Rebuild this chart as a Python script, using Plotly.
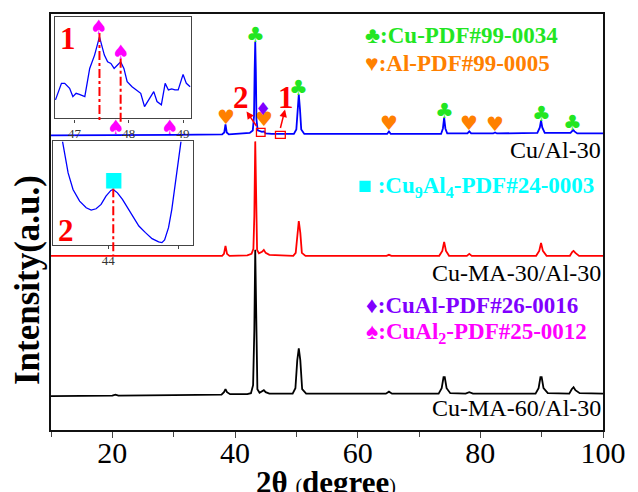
import plotly.graph_objects as go

# ---------------- data ----------------
# Cu/Al-30 (blue)
tt_blue = [10, 20, 30, 37.9, 38.25, 38.45, 38.65, 39.0, 41.0, 42.4, 42.9, 43.1, 43.2, 43.3, 43.4, 43.5, 43.7,
           44.0, 44.4, 44.7, 45.0, 46.0, 49.6, 50.0, 50.2, 50.4, 50.6, 50.8, 51.3, 64.8, 65.1, 65.4,
           73.6, 73.9, 74.1, 74.3, 74.6, 77.9, 78.2, 78.5, 82.1, 82.4, 82.7, 89.3, 89.7, 89.9, 90.1, 90.5,
           94.7, 95.0, 95.15, 95.35, 95.8, 100]
I_blue = [0, 0, 0.5, 1, 3, 11, 3, 1, 1.5, 2.5, 5, 19, 64, 94, 64, 16, 5,
          4, 3.5, 4, 2, 1.5, 1.5, 6, 26, 41, 26, 6, 1.5, 1.5, 4, 1.5,
          1.5, 7, 18, 7, 2, 2, 4, 2, 2, 3, 2, 2.5, 8, 15, 8, 2.5,
          2.5, 5, 5.5, 4, 2, 2]
# Cu-MA-30/Al-30 (red)
tt_red = [10, 20, 30, 37.9, 38.2, 38.45, 38.7, 39.1, 42.0, 42.7, 43.0, 43.15, 43.3, 43.45, 43.6, 43.9,
          44.4, 44.7, 45.0, 45.6, 47.5, 48.0, 49.5, 49.9, 50.15, 50.4, 50.65, 50.9, 51.5, 64.7, 65.1, 65.5,
          73.3, 73.8, 74.1, 74.4, 74.9, 77.8, 78.2, 78.6, 89.1, 89.6, 89.9, 90.2, 90.8,
          94.6, 95.0, 95.2, 95.5, 96.1, 100]
I_red = [0, 0, 0, 0, 2, 10, 2, 0, 0.5, 2, 7, 40, 115, 40, 6, 2.5,
         4, 6, 3, 1, 0.5, 1, 0, 3, 23, 35, 23, 3, 0, 0, 1, 0,
         0, 5, 14, 5, 0, 0, 2, 0, 0, 5, 13, 5, 0,
         0, 4, 5, 3, 0, 0]
# Cu-MA-60/Al-30 (black)
tt_black = [10, 20, 20.5, 21, 30, 37.8, 38.2, 38.45, 38.7, 39.2, 42.0, 42.6, 42.95, 43.15, 43.3, 43.45, 43.65,
            44.0, 44.4, 44.7, 45.0, 45.6, 49.4, 49.85, 50.15, 50.4, 50.65, 50.95, 51.6, 64.6, 65.1, 65.6,
            73.2, 73.7, 74.0, 74.2, 74.5, 75.1, 77.6, 78.2, 78.8, 89.0, 89.5, 89.8, 90.0, 90.3, 91.0,
            94.5, 94.9, 95.2, 95.5, 96.2, 100]
I_black = [0, 0.5, 1.5, 0.5, 1, 1.5, 4, 7, 4, 2, 2, 3, 11, 66, 147, 66, 7,
           3.5, 5, 6, 4, 2.5, 2.5, 8, 36, 48, 36, 7, 2.5, 2.5, 4.5, 2.5,
           2.5, 8, 19, 19, 8, 3, 2.5, 4, 2.5, 2.5, 8, 19, 19, 8, 3,
           2.5, 7, 9, 6, 3, 2.5]
offset_blue, offset_red, offset_black = 296, 175, 34

# inset 1 (zoom of region "1", blue)
tt_in1 = [46.65, 46.76, 46.82, 46.91, 46.97, 47.03, 47.09, 47.19, 47.28, 47.37, 47.46, 47.55, 47.61, 47.67,
          47.73, 47.85, 47.91, 47.97, 48.06, 48.15, 48.22, 48.29, 48.37, 48.46, 48.52, 48.60, 48.67, 48.73,
          48.79, 48.85, 48.91, 49.00, 49.06, 49.13]
I_in1 = [18.7, 35.3, 35.3, 30.3, 22, 25.3, 24.3, 22, 50.3, 63.7, 82, 63.7, 57, 55.3,
         50.3, 57, 50.3, 37, 32, 28.7, 25.3, 12, 18.7, 27, 17, 13.7, 35.3, 28.7,
         29.7, 28.7, 28.7, 44.3, 35.3, 32]
# inset 2 (zoom of region "2", blue)
tt_in2 = [43.346, 43.379, 43.426, 43.496, 43.590, 43.684, 43.755, 43.825, 43.896, 43.966, 44.036, 44.069,
          44.130, 44.201, 44.271, 44.341, 44.435, 44.529, 44.623, 44.717, 44.764, 44.802, 44.858, 44.905,
          44.952, 44.999, 45.036]
I_in2 = [104, 89, 72.3, 55.7, 44, 37.3, 35, 36.3, 40.7, 49, 54.7, 55.7,
         52.3, 45.7, 37.3, 29, 19, 12.3, 6.3, 3, 2.3, 5, 17.3, 35.7,
         59, 85.7, 104]

peaks_Cu = [43.3, 50.4, 74.1, 89.9, 95.1]
peaks_Al = [38.5, 44.7, 65.1, 78.2, 82.4]
peaks_CuAl = [44.6]
peaks_CuAl2_main = [20.6, 29.4]
peaks_CuAl2_inset = [47.46, 47.85]
peaks_Cu9Al4_inset = [44.07]

x_ticks = [20, 40, 60, 80, 100]
x_minor = [10, 30, 50, 70, 90]

labels = ["Cu/Al-30", "Cu-MA-30/Al-30", "Cu-MA-60/Al-30"]

# ---------------- layout geometry ----------------
W, H = 638, 492
L, R, T, B = 51, 610, 12, 430
PW, PH = R - L, B - T
SERIF = "Liberation Serif, Times New Roman, serif"
SYM = "DejaVu Sans"

C_GREEN = "#22e622"
C_ORANGE = "#ff8000"
C_CYAN = "#00ffff"
C_PURPLE = "#8000ff"
C_MAG = "#ff00ff"


def px(xp, yp):
    return (xp - L) / PW, (B - yp) / PH


def dom_x(a, b):
    return [(a - L) / PW, (b - L) / PW]


def dom_y(top, bot):
    return [(B - bot) / PH, (B - top) / PH]


fig = go.Figure()
fig.add_trace(go.Scatter(x=tt_black, y=[v + offset_black for v in I_black], mode="lines",
                         line=dict(color="black", width=1.8), showlegend=False))
fig.add_trace(go.Scatter(x=tt_red, y=[v + offset_red for v in I_red], mode="lines",
                         line=dict(color="#ff0000", width=1.8), showlegend=False))
fig.add_trace(go.Scatter(x=tt_blue, y=[v + offset_blue for v in I_blue], mode="lines",
                         line=dict(color="#0000ff", width=1.8), showlegend=False))
fig.add_trace(go.Scatter(x=tt_in1, y=I_in1, mode="lines", xaxis="x2", yaxis="y2",
                         line=dict(color="#0000ff", width=1.3), showlegend=False))
fig.add_trace(go.Scatter(x=tt_in2, y=I_in2, mode="lines", xaxis="x3", yaxis="y3",
                         line=dict(color="#0000ff", width=1.3), showlegend=False))

ann = []


def sym(x, y, ch, color, size, xref="x", yref="y"):
    ann.append(dict(x=x, y=y, xref=xref, yref=yref, text=ch, showarrow=False,
                    font=dict(color=color, size=size, family=SYM), xanchor="center", yanchor="middle"))


def local_max(tt, I, off, x0, w=0.4):
    return max(v for t, v in zip(tt, I) if abs(t - x0) <= w) + off


for p in peaks_Cu:
    sym(p, local_max(tt_blue, I_blue, offset_blue, p) + 7, "♣", C_GREEN, 21)
for p in peaks_Al:
    pad = 13 if p == 44.7 else 8
    sym(p, local_max(tt_blue, I_blue, offset_blue, p, 0.2) + pad, "♥", C_ORANGE, 20)
for p in peaks_CuAl:
    sym(p, offset_blue + 27, "♦", C_PURPLE, 18)
for p in peaks_CuAl2_main:
    sym(p, offset_blue + 8, "♠", C_MAG, 20)
for p in peaks_CuAl2_inset:
    sym(p, local_max(tt_in1, I_in1, 0, p, 0.02) + 10, "♠", C_MAG, 20, "x2", "y2")
for p in peaks_Cu9Al4_inset:
    sym(p, local_max(tt_in2, I_in2, 0, p, 0.02) + 11, "■", C_CYAN, 20, "x3", "y3")

# legend-like texts
legend_items = [
    (367, 34, C_GREEN, "♣:Cu-PDF#99-0034"),
    (367, 62, C_ORANGE, "♥:Al-PDF#99-0005"),
    (360, 186, C_CYAN, "■ :Cu<sub>9</sub>Al<sub>4</sub>-PDF#24-0003"),
    (368, 305, C_PURPLE, "♦:CuAl-PDF#26-0016"),
    (368, 333, C_MAG, "♠:CuAl<sub>2</sub>-PDF#25-0012"),
]
for xp, yp, col, txt in legend_items:
    x, y = px(xp, yp)
    ann.append(dict(x=x, y=y, xref="paper", yref="paper", text="<b>" + txt + "</b>", showarrow=False,
                    font=dict(color=col, size=23, family=SERIF), xanchor="left", yanchor="middle"))

# curve labels
for yp, txt in zip([149, 272, 408], labels):
    x, y = px(610, yp)
    ann.append(dict(x=x, y=y, xref="paper", yref="paper", text=txt, showarrow=False,
                    font=dict(color="black", size=24, family=SERIF), xanchor="right", yanchor="middle"))

# red numbers
for xp, yp, txt in [(68, 37, "1"), (66, 230, "2"), (243, 96, "2"), (289, 96, "1")]:
    x, y = px(xp, yp)
    ann.append(dict(x=x, y=y, xref="paper", yref="paper", text="<b>" + txt + "</b>", showarrow=False,
                    font=dict(color="#ff0000", size=31, family=SERIF), xanchor="center", yanchor="middle"))

# arrows (head, tail)
for (hx, hy), (tx, ty) in [((249, 110), (260, 126)), ((288, 108), (283, 128))]:
    x, y = px(hx, hy)
    ann.append(dict(x=x, y=y, xref="paper", yref="paper", text="", showarrow=True,
                    ax=tx - hx, ay=ty - hy, arrowhead=2, arrowsize=1, arrowwidth=1.5,
                    arrowcolor="#ff0000", standoff=0, startstandoff=0))

# axis titles
x, y = px(329, 483)
ann.append(dict(x=x, y=y, xref="paper", yref="paper", showarrow=False, xanchor="center", yanchor="middle",
                text="<b>2θ</b> <span style='font-size:20px'>(</span><b>degree</b><span style='font-size:20px'>)</span>",
                font=dict(color="black", size=31, family=SERIF)))
x, y = px(27, 279)
ann.append(dict(x=x, y=y, xref="paper", yref="paper", showarrow=False, xanchor="center", yanchor="middle",
                textangle=-90, text="<b>Intensity(a.u.)</b>", font=dict(color="black", size=35, family=SERIF)))

shapes = []
# red boxes on blue curve
for x0, x1, y0, y1 in [(43.5, 44.9, offset_blue - 1, offset_blue + 7), (46.6, 48.2, offset_blue - 3, offset_blue + 4)]:
    shapes.append(dict(type="rect", xref="x", yref="y", x0=x0, x1=x1, y0=y0, y1=y1,
                       line=dict(color="#ff0000", width=1.3)))
# dash-dot guide lines in insets
for p, ytop in zip(peaks_CuAl2_inset, [31, 57]):
    shapes.append(dict(type="line", xref="x2", yref="paper", x0=p, x1=p,
                       y0=px(0, ytop)[1], y1=px(0, 121)[1],
                       line=dict(color="#ff0000", width=2, dash="dashdot")))
for p in peaks_Cu9Al4_inset:
    shapes.append(dict(type="line", xref="x3", yref="paper", x0=p, x1=p,
                       y0=px(0, 187)[1], y1=px(0, 254)[1],
                       line=dict(color="#ff0000", width=2, dash="dashdot")))

fig.update_layout(
    width=W, height=H, margin=dict(l=L, r=W - R, t=T, b=H - B),
    paper_bgcolor="white", plot_bgcolor="white",
    annotations=ann, shapes=shapes,
    xaxis=dict(range=[10, 100], tickvals=x_ticks, ticks="outside", ticklen=6, tickwidth=1.3,
               minor=dict(tickvals=x_minor, ticks="outside", ticklen=5, tickwidth=1.3),
               showline=True, mirror=True, linecolor="#111", linewidth=1.6, showgrid=False, zeroline=False,
               ticklabelstandoff=-11,
               tickfont=dict(size=30, family=SERIF, color="black")),
    yaxis=dict(range=[0, PH], showticklabels=False, ticks="", showline=True, mirror=True,
               linecolor="#111", linewidth=1.6, showgrid=False, zeroline=False),
    xaxis2=dict(domain=dom_x(55, 193), anchor="y2", range=[46.64, 49.15], tickvals=[47, 48, 49],
                ticks="outside", ticklen=3, showline=True, mirror=True, linecolor="#444", linewidth=1.3,
                showgrid=False, zeroline=False, tickfont=dict(size=13, family=SERIF, color="#333")),
    yaxis2=dict(domain=dom_y(15, 117), anchor="x2", range=[0, 102], showticklabels=False, ticks="",
                showline=True, mirror=True, linecolor="#444", linewidth=1.3, showgrid=False, zeroline=False),
    xaxis3=dict(domain=dom_x(53, 195), anchor="y3", range=[43.21, 45.21], tickvals=[44, 45],
                ticktext=["44", ""], ticks="outside", ticklen=3, showline=True, mirror=True, linecolor="#444",
                linewidth=1.3, showgrid=False, zeroline=False, tickfont=dict(size=13, family=SERIF, color="#333")),
    yaxis3=dict(domain=dom_y(140, 244), anchor="x3", range=[0, 104], showticklabels=False, ticks="",
                showline=True, mirror=True, linecolor="#444", linewidth=1.3, showgrid=False, zeroline=False),
)

fig.write_html("out.html")
